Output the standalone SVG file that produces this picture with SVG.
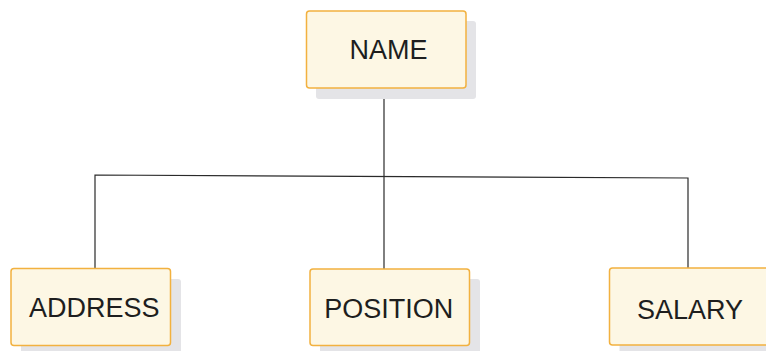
<svg xmlns="http://www.w3.org/2000/svg" width="766" height="351" viewBox="0 0 766 351">
<style>
.shadow{fill:#e4e4e7;}
.box{fill:#fdf7e4;stroke:#f2b13f;stroke-width:1.5;}
.lbl{font-family:"Liberation Sans",Arial,sans-serif;font-size:27px;fill:#1e1e1e;text-anchor:middle;}
.conn{stroke:#2a2a2a;stroke-width:1.2;fill:none;}
</style>
<rect width="766" height="351" fill="#ffffff"/>
<g id="connectors">
<line class="conn" x1="384" y1="88" x2="384" y2="269"/>
<polyline class="conn" points="95,268 95,175 688,178 688,268"/>
</g>
<g id="name">
<rect class="shadow" x="316" y="21" width="160" height="78" rx="3"/>
<rect class="box" x="306.5" y="11" width="159.5" height="77" rx="3"/>
<text class="lbl" x="388.5" y="59">NAME</text>
</g>
<g id="address">
<rect class="shadow" x="21" y="279" width="160" height="78" rx="3"/>
<rect class="box" x="11" y="268.5" width="159.5" height="77" rx="3"/>
<text class="lbl" x="94.3" y="316.7">ADDRESS</text>
</g>
<g id="position">
<rect class="shadow" x="320" y="279" width="160" height="78" rx="3"/>
<rect class="box" x="310" y="269" width="159.5" height="76.5" rx="3"/>
<text class="lbl" x="388.8" y="317.5">POSITION</text>
</g>
<g id="salary">
<rect class="shadow" x="619.5" y="278" width="160" height="78" rx="3"/>
<rect class="box" x="609.5" y="268" width="159.5" height="77" rx="3"/>
<text class="lbl" x="690" y="319">SALARY</text>
</g>
</svg>
